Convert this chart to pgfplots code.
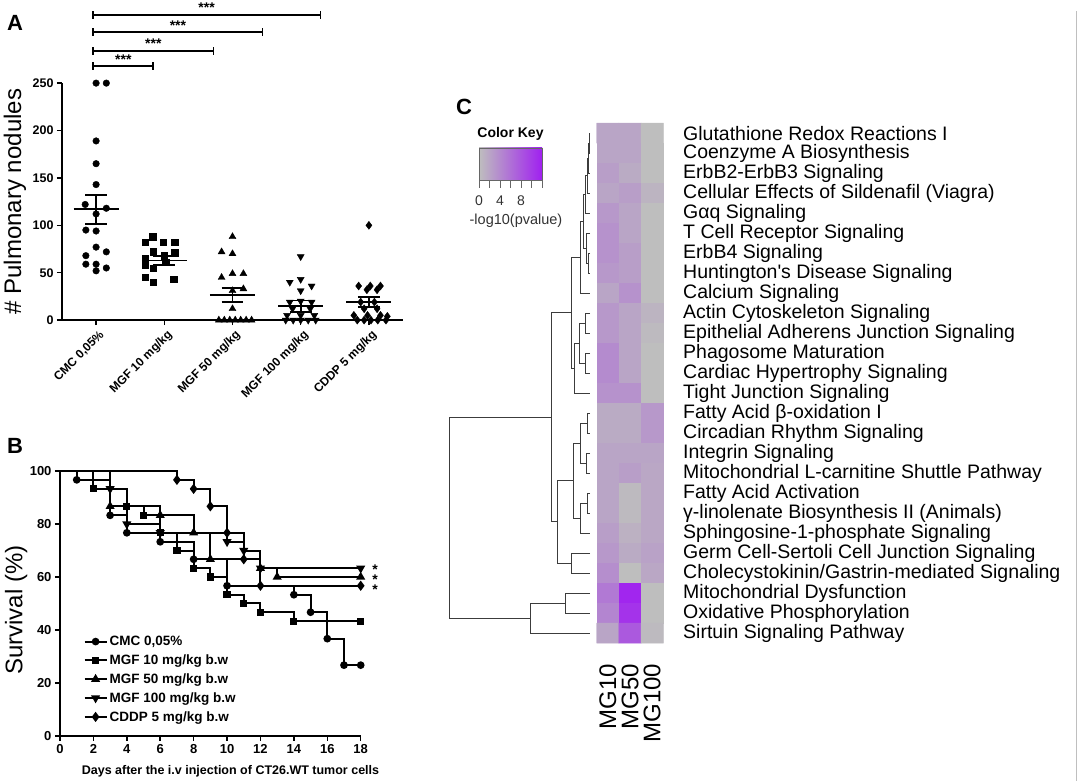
\documentclass[border=0pt]{standalone}
\usepackage{pgfplots}
\pgfplotsset{compat=1.18}
\usepackage{pgfplotstable}
\usepackage{fontspec}
\setmainfont{Liberation Sans}

\definecolor{dendro}{RGB}{60,60,60}
\definecolor{keygray}{RGB}{190,190,190}
\definecolor{keypurple}{RGB}{160,32,240}
\newcommand{\px}[1]{\fontsize{#1}{#1}\selectfont}

% -log10(p) per pathway: col 0=MG10, 1=MG50, 2=MG100; row 0 = top
\pgfplotstableread{
col row val
0 0 2
1 0 2
2 0 0
0 1 2
1 1 2
2 1 0
0 2 2.5
1 2 1.5
2 2 0
0 3 2
1 3 2.5
2 3 0.8
0 4 3
1 4 2
2 4 0
0 5 3.5
1 5 2
2 5 0
0 6 3.5
1 6 2.5
2 6 0
0 7 3
1 7 2.5
2 7 0
0 8 2
1 8 3.5
2 8 0
0 9 3
1 9 2
2 9 0.8
0 10 3
1 10 2
2 10 0.3
0 11 4
1 11 2
2 11 0
0 12 4
1 12 2
2 12 0
0 13 3.5
1 13 3.5
2 13 0
0 14 1.5
1 14 1.5
2 14 3
0 15 1.5
1 15 1.5
2 15 3
0 16 2
1 16 2
2 16 2
0 17 2
1 17 2.5
2 17 1.8
0 18 2
1 18 0.3
2 18 1.8
0 19 2
1 19 0.3
2 19 1.8
0 20 2.5
1 20 1
2 20 1.8
0 21 3
1 21 1.5
2 21 2.2
0 22 3.8
1 22 0
2 22 1.8
0 23 5.5
1 23 12
2 23 0
0 24 4.5
1 24 11
2 24 0
0 25 2
1 25 8
2 25 0.3
}\heat

\begin{document}
\begin{tikzpicture}
\path (0pt,0pt) rectangle (1079pt,-776pt);

%% ---------- A: nodules ----------
\begin{axis}[
  at={(62pt,-315pt)}, anchor=south west,
  scale only axis, width=341pt, height=237pt,
  xmin=-0.5, xmax=4.5, ymin=0, ymax=250,
  axis x line=bottom, axis y line=left,
  axis line style={-, line width=1.8pt},
  tick align=outside, major tick length=5pt,
  tick style={line width=1.5pt, black},
  xtick={0,...,4},
  xticklabels={{CMC 0,05\%},{MGF 10 mg/kg},{MGF 50 mg/kg},{MGF 100 mg/kg},{CDDP 5 mg/kg}},
  xticklabel style={rotate=45, anchor=east, font=\bfseries\px{12}, xshift=2pt, yshift=-10pt},
  ytick={0,50,...,250},
  yticklabel style={font=\bfseries\px{12.5}},
  /pgf/number format/assume math mode=true,
  ylabel={\# Pulmonary nodules},
  every axis y label/.style={at={(axis description cs:-0.138,0.5)}, rotate=90, anchor=center, font=\px{24}},
  clip=false, unbounded coords=jump,
]
\addplot[only marks, mark=*, mark size=3.3pt, black] coordinates {
 (0,250) (0.15,250) (0,189) (0,165) (0,143) (-0.16,122) (0.15,118) (0,112)
 (-0.15,95) (0,94) (0,77) (-0.15,68) (0.15,72) (-0.15,59) (0,59) (0.15,55) (0,52)};
\addplot[only marks, mark=square*, mark size=3.2pt, black] coordinates {
 (0.72,82) (0.83,88) (0.98,82) (1.15,82) (0.84,72) (1.15,71) (0.72,65) (1.0,68)
 (0.72,58) (1.02,61) (0.84,55) (0.72,45) (0.84,40) (1.14,43)};
\addplot[only marks, mark=triangle*, mark size=4pt, black] coordinates {
 (2,88) (1.84,72) (2,70) (1.84,45) (2,49) (2.16,49) (2.16,33) (2,31) (2,12)
 (1.8,0) (1.88,0) (1.96,0) (2.04,0) (2.12,0) (2.2,0) (2.28,0)};
\addplot[only marks, mark=triangle*, mark options={rotate=180}, mark size=4pt, black] coordinates {
 (3,67) (2.84,40) (3,43) (3.16,36) (3,31) (2.84,19) (3,20) (3.16,19) (2.88,12) (3.14,12)
 (2.8,5) (3,5) (3.2,5) (2.78,0) (2.89,0) (3,0) (3.11,0) (3.22,0)};
\addplot[only marks, mark=diamond*, mark size=4pt, black] coordinates {
 (4,100) (3.85,36) (4.02,36) (4.17,36) (3.97,32) (4.12,32) (3.88,19) (4.08,19)
 (3.93,12) (4.12,12) (3.78,5) (3.98,5) (4.17,5) (4.27,4)
 (3.83,0) (3.93,0) (4.03,0) (4.13,0) (4.25,0)};
% mean and SEM
\addplot[black, line width=1.8pt, mark=none] coordinates {
 (-0.33,117) (0.33,117) (nan,nan) (-0.16,132.3) (0.16,132.3) (nan,nan) (0,132.3) (0,101.7) (nan,nan) (-0.16,101.7) (0.16,101.7) (nan,nan)
 (0.67,63) (1.33,63) (nan,nan) (0.84,67.8) (1.16,67.8) (nan,nan) (1,67.8) (1,58.2) (nan,nan) (0.84,58.2) (1.16,58.2) (nan,nan)
 (1.67,26.4) (2.33,26.4) (nan,nan) (1.84,33.7) (2.16,33.7) (nan,nan) (2,33.7) (2,19.1) (nan,nan) (1.84,19.1) (2.16,19.1) (nan,nan)
 (2.67,14.7) (3.33,14.7) (nan,nan) (2.84,20.7) (3.16,20.7) (nan,nan) (3,20.7) (3,8.7) (nan,nan) (2.84,8.7) (3.16,8.7) (nan,nan)
 (3.67,19) (4.33,19) (nan,nan) (3.84,24.3) (4.16,24.3) (nan,nan) (4,24.3) (4,13.7) (nan,nan) (3.84,13.7) (4.16,13.7)};
% significance brackets
\addplot[black, line width=1.8pt, mark=none] coordinates {
 (-0.04,264) (-0.04,272) (nan,nan) (-0.04,268) (0.84,268) (nan,nan) (0.84,264) (0.84,272) (nan,nan)
 (-0.04,280) (-0.04,288) (nan,nan) (-0.04,284) (1.72,284) (nan,nan) (1.72,280) (1.72,288) (nan,nan)
 (-0.04,300) (-0.04,308) (nan,nan) (-0.04,304) (2.44,304) (nan,nan) (2.44,300) (2.44,308) (nan,nan)
 (-0.04,318) (-0.04,326) (nan,nan) (-0.04,322) (3.29,322) (nan,nan) (3.29,318) (3.29,326)};
\node[font=\bfseries\px{14}, anchor=base] at (axis cs:0.4,270) {***};
\node[font=\bfseries\px{14}, anchor=base] at (axis cs:0.84,286) {***};
\node[font=\bfseries\px{14}, anchor=base] at (axis cs:1.2,306) {***};
\node[font=\bfseries\px{14}, anchor=base] at (axis cs:1.62,324) {***};
\end{axis}

%% ---------- B: survival ----------
\begin{axis}[
  at={(60pt,-730.7pt)}, anchor=south west,
  scale only axis, width=300.7pt, height=264.7pt,
  xmin=0, xmax=18, ymin=0, ymax=100,
  axis x line=bottom, axis y line=left,
  axis line style={-, line width=1.5pt},
  tick align=outside, major tick length=5pt,
  tick style={line width=1.5pt, black},
  xtick={0,2,...,18}, ytick={0,20,...,100},
  tick label style={font=\bfseries\px{13}},
  /pgf/number format/assume math mode=true,
  xlabel={Days after the i.v injection of CT26.WT tumor cells},
  every axis x label/.style={at={(axis description cs:0.567,0)}, anchor=center, yshift=-35.3pt, font=\bfseries\px{12.5}},
  ylabel={Survival (\%)},
  every axis y label/.style={at={(axis description cs:-0.146,0.475)}, rotate=90, anchor=center, font=\px{24}},
  clip=false,
  every axis plot/.append style={const plot, black, line width=2pt, mark phase=2},
  legend style={at={(axis cs:1.4,38.5)}, anchor=north west, draw=none, fill=none,
    font=\bfseries\px{13.5}, row sep=3.6pt, inner sep=0pt},
  legend cell align=left,
  legend image code/.code={\draw[#1, mark repeat=2, mark phase=2] plot coordinates {(0pt,0pt) (11pt,0pt) (22pt,0pt)};},
]
\addplot[mark=*, mark size=2.8pt] coordinates {
 (0,100) (1,96.7) (3,83.3) (4,76.7) (6,73.3) (8,66.7) (10,56.7) (14,53.3) (15,46.7) (16,36.7) (17,26.7) (18,26.7)};
\addlegendentry{CMC 0,05\%}
\addplot[mark=square*, mark size=2.6pt] coordinates {
 (0,100) (2,93.3) (4,86.7) (5,83.3) (6,76.7) (7,70) (8,63.3) (9,60) (10,53.3) (11,50) (12,46.7) (14,43.3) (18,43.3)};
\addlegendentry{MGF 10 mg/kg b.w}
\addplot[mark=triangle*, mark size=3.3pt] coordinates {
 (0,100) (3,86.7) (6,83.3) (8,76.7) (9,66.7) (12,63.3) (13,60) (18,60)};
\addlegendentry{MGF 50 mg/kg b.w}
\addplot[mark=triangle*, mark options={rotate=180}, mark size=3.3pt] coordinates {
 (0,100) (3,93.3) (4,80) (6,76.7) (10,73.3) (11,70) (12,63.3) (18,63.3)};
\addlegendentry{MGF 100 mg/kg b.w}
\addplot[mark=diamond*, mark size=3.5pt] coordinates {
 (0,100) (7,96.7) (8,93.3) (9,86.7) (10,76.7) (11,66.7) (12,56.7) (18,56.7)};
\addlegendentry{CDDP 5 mg/kg b.w}
\end{axis}

%% ---------- C: heatmap, dendrogram, labels (pixel canvas) ----------
\begin{axis}[
  at={(0pt,0pt)}, anchor=north west,
  scale only axis, width=1079pt, height=776pt,
  xmin=0, xmax=1079, ymin=0, ymax=776, y dir=reverse,
  hide axis, clip=false, unbounded coords=jump,
  colormap={gp}{rgb255=(190,190,190) rgb255=(160,32,240)},
  point meta min=0, point meta max=12.6,
]
\addplot[matrix plot*, mesh/cols=3, point meta=explicit]
  table[x expr={607.8+22.2*\thisrow{col}}, y expr={128+20*\thisrow{row}}, meta=val]{\heat};
\addplot[dendro, line width=0.9pt, mark=none] coordinates {
 (590,128) (589,128) (589,148) (590,148) (nan,nan)
 (589,138) (588,138) (588,168) (590,168) (nan,nan)
 (588,153) (587,153) (587,188) (590,188) (nan,nan)
 (587,170.5) (585.5,170.5) (585.5,208) (590,208) (nan,nan)
 (590,248) (588,248) (588,268) (590,268) (nan,nan)
 (590,228) (586.5,228) (586.5,258) (588,258) (nan,nan)
 (585.5,189.25) (583,189.25) (583,243) (586.5,243) (nan,nan)
 (583,216.1) (580,216.1) (580,288) (590,288) (nan,nan)
 (590,308) (585,308) (585,328) (590,328) (nan,nan)
 (590,348) (585,348) (585,368) (590,368) (nan,nan)
 (585,318) (579,318) (579,358) (585,358) (nan,nan)
 (579,338) (574,338) (574,388) (590,388) (nan,nan)
 (580,252) (571.7,252) (571.7,363) (574,363) (nan,nan)
 (590,408) (587,408) (587,428) (590,428) (nan,nan)
 (590,448) (586.5,448) (586.5,468) (590,468) (nan,nan)
 (587,418) (580,418) (580,458) (586.5,458) (nan,nan)
 (590,488) (587.5,488) (587.5,508) (590,508) (nan,nan)
 (587.5,498) (580,498) (580,528) (590,528) (nan,nan)
 (580,438) (573.3,438) (573.3,513) (580,513) (nan,nan)
 (590,548) (571.7,548) (571.7,568) (590,568) (nan,nan)
 (573.3,475.5) (557.3,475.5) (557.3,558) (571.7,558) (nan,nan)
 (571.7,307.5) (551.7,307.5) (551.7,516.75) (557.3,516.75) (nan,nan)
 (590,588) (565.7,588) (565.7,608) (590,608) (nan,nan)
 (565.7,598) (530,598) (530,628) (590,628) (nan,nan)
 (551.7,412.1) (449.3,412.1) (449.3,613) (530,613)};
% colour key
\shade[left color=keygray, right color=keypurple] (axis cs:479,142.7) rectangle (axis cs:542,175);
\draw[gray!80!black, line width=0.6pt] (axis cs:479,142.7) rectangle (axis cs:542,175);
\draw[gray!80!black, line width=0.6pt]
  (axis cs:479,175) -- (axis cs:479,183) (axis cs:489.5,175) -- (axis cs:489.5,183)
  (axis cs:500,175) -- (axis cs:500,183) (axis cs:510.5,175) -- (axis cs:510.5,183)
  (axis cs:521,175) -- (axis cs:521,183) (axis cs:531.5,175) -- (axis cs:531.5,183)
  (axis cs:542,175) -- (axis cs:542,183);
\node[font=\bfseries\px{14}] at (axis cs:510.5,129) {Color Key};
\node[font=\px{14}, text=black!80] at (axis cs:479,196) {0};
\node[font=\px{14}, text=black!80] at (axis cs:500,196) {4};
\node[font=\px{14}, text=black!80] at (axis cs:521,196) {8};
\node[font=\px{14.5}, text=black!80] at (axis cs:516,216) {-log10(pvalue)};
% column labels
\node[font=\px{24}, rotate=90, anchor=east] at (axis cs:607.8,655) {MG10};
\node[font=\px{24}, rotate=90, anchor=east] at (axis cs:630,655) {MG50};
\node[font=\px{24}, rotate=90, anchor=east] at (axis cs:652.2,655) {MG100};
% row labels
\begin{scope}[every node/.style={anchor=west, font=\px{19.5}, inner sep=0pt}]
\node at (axis cs:683,128) {Glutathione Redox Reactions I};
\node at (axis cs:683,148) {Coenzyme A Biosynthesis};
\node at (axis cs:683,168) {ErbB2-ErbB3 Signaling};
\node at (axis cs:683,188) {Cellular Effects of Sildenafil (Viagra)};
\node at (axis cs:683,208) {Gαq Signaling};
\node at (axis cs:683,228) {T Cell Receptor Signaling};
\node at (axis cs:683,248) {ErbB4 Signaling};
\node at (axis cs:683,268) {Huntington\textquotesingle s Disease Signaling};
\node at (axis cs:683,288) {Calcium Signaling};
\node at (axis cs:683,308) {Actin Cytoskeleton Signaling};
\node at (axis cs:683,328) {Epithelial Adherens Junction Signaling};
\node at (axis cs:683,348) {Phagosome Maturation};
\node at (axis cs:683,368) {Cardiac Hypertrophy Signaling};
\node at (axis cs:683,388) {Tight Junction Signaling};
\node at (axis cs:683,408) {Fatty Acid β-oxidation I};
\node at (axis cs:683,428) {Circadian Rhythm Signaling};
\node at (axis cs:683,448) {Integrin Signaling};
\node at (axis cs:683,468) {Mitochondrial L-carnitine Shuttle Pathway};
\node at (axis cs:683,488) {Fatty Acid Activation};
\node at (axis cs:683,508) {γ-linolenate Biosynthesis II (Animals)};
\node at (axis cs:683,528) {Sphingosine-1-phosphate Signaling};
\node at (axis cs:683,548) {Germ Cell-Sertoli Cell Junction Signaling};
\node at (axis cs:683,568) {Cholecystokinin/Gastrin-mediated Signaling};
\node at (axis cs:683,588) {Mitochondrial Dysfunction};
\node at (axis cs:683,608) {Oxidative Phosphorylation};
\node at (axis cs:683,628) {Sirtuin Signaling Pathway};
\end{scope}
% survival significance stars
\node[font=\bfseries\px{14}] at (axis cs:375,565) {*};
\node[font=\bfseries\px{14}] at (axis cs:375,575) {*};
\node[font=\bfseries\px{14}] at (axis cs:375,585) {*};
% panel letters
\node[font=\bfseries\px{22}] at (axis cs:15,18) {A};
\node[font=\bfseries\px{22}] at (axis cs:15,441) {B};
\node[font=\bfseries\px{22}] at (axis cs:464,102) {C};
% right edge rule
\draw[gray!50, line width=0.8pt] (axis cs:1076,6) -- (axis cs:1076,776);
\end{axis}
\end{tikzpicture}
\end{document}
